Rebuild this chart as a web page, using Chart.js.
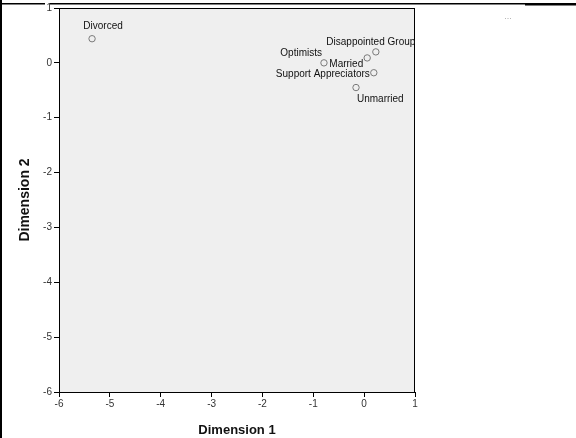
<!DOCTYPE html>
<html>
<head>
<meta charset="utf-8">
<script src="https://cdn.jsdelivr.net/npm/chart.js@4"></script>
<style>
  html, body { margin: 0; padding: 0; background: #fff; }
  #wrap { position: relative; width: 576px; height: 438px; }
</style>
</head>
<body>
<div id="wrap"><canvas id="grafico" width="576" height="438"></canvas></div>
<script>
// dados (coordenadas dos grupos)
const grupos = ["Divorced", "Optimists", "Married", "Disappointed Group", "Support Appreciators", "Unmarried"];
const dimensao1 = [-5.35, -0.79, 0.06, 0.23, 0.19, -0.16];
const dimensao2 = [0.44, 0.0, 0.09, 0.2, -0.18, -0.45];
const limitesX = [-6, 1];
const limitesY = [-6, 1];

// onde cada rótulo fica em relação ao ponto
const posRotulos = [
  { align: "center", dx: 11, dy: -12 },
  { align: "right", dx: -2, dy: -10 },
  { align: "right", dx: -4, dy: 6 },
  { align: "center", dx: -5, dy: -10 },
  { align: "right", dx: -4, dy: 2 },
  { align: "left", dx: 1, dy: 12 },
];

const fonte = "Arial, 'Liberation Sans', sans-serif";

const extras = {
  id: "extras",
  beforeDraw(chart) {
    const { ctx, chartArea: a } = chart;
    ctx.save();
    ctx.fillStyle = "#fff";
    ctx.fillRect(0, 0, chart.width, chart.height);
    ctx.fillStyle = "#efefef";
    ctx.fillRect(a.left, a.top, a.right - a.left, a.bottom - a.top);
    ctx.restore();
  },
  afterDraw(chart) {
    const { ctx, chartArea: a } = chart;
    const meta = chart.getDatasetMeta(0);
    ctx.save();
    // moldura da área do gráfico
    ctx.strokeStyle = "#000";
    ctx.lineWidth = 1;
    ctx.strokeRect(a.left + 0.5, a.top + 0.5, a.right - a.left - 1, a.bottom - a.top);

    // rótulos dos pontos (cortados na área)
    ctx.beginPath();
    ctx.rect(a.left, a.top, a.right - a.left, a.bottom - a.top);
    ctx.clip();
    ctx.font = "10px " + fonte;
    ctx.fillStyle = "#111";
    ctx.textBaseline = "middle";
    meta.data.forEach((pt, i) => {
      const p = posRotulos[i];
      ctx.textAlign = p.align;
      ctx.fillText(grupos[i], pt.x + p.dx, pt.y + p.dy);
    });
    ctx.restore();

    // bordas da página
    ctx.save();
    ctx.fillStyle = "#000";
    ctx.fillRect(0, 0, 2, chart.height);
    ctx.fillRect(0, 3, 45, 1.5);
    ctx.fillRect(50, 3, 475, 1.5);
    ctx.fillRect(525, 3, 51, 2.5);
    ctx.fillStyle = "#aaa";
    ctx.font = "9px " + fonte;
    ctx.textAlign = "center";
    ctx.textBaseline = "middle";
    ctx.fillText("...", 508, 17);
    ctx.restore();
  },
};

new Chart(document.getElementById("grafico").getContext("2d"), {
  type: "scatter",
  data: {
    datasets: [
      {
        label: "Grupos",
        data: dimensao1.map((x, i) => ({ x, y: dimensao2[i] })),
        pointRadius: 3.2,
        pointHoverRadius: 3.2,
        pointBorderWidth: 1,
        borderColor: "#7a7a7a",
        backgroundColor: "rgba(0,0,0,0)",
      },
    ],
  },
  options: {
    responsive: false,
    animation: false,
    events: [],
    layout: { padding: { top: 7, right: 161, left: 0, bottom: 0 } },
    plugins: { legend: { display: false }, tooltip: { enabled: false } },
    scales: {
      x: {
        min: limitesX[0],
        max: limitesX[1],
        afterFit: (s) => { s.height = 46; },
        ticks: { stepSize: 1, color: "#333", padding: 1, font: { family: fonte, size: 10 } },
        grid: { drawOnChartArea: false, drawTicks: true, tickLength: 5, color: "#000" },
        border: { display: true, color: "#000" },
        title: {
          display: true,
          text: "Dimension 1",
          color: "#111",
          font: { family: fonte, size: 13, weight: "bold" },
          padding: { top: 0, bottom: 0 },
        },
      },
      y: {
        min: limitesY[0],
        max: limitesY[1],
        afterFit: (s) => { s.width = 59; },
        ticks: { stepSize: 1, color: "#333", padding: 2, font: { family: fonte, size: 10 } },
        grid: { drawOnChartArea: false, drawTicks: true, tickLength: 5, color: "#000" },
        border: { display: true, color: "#000" },
        title: {
          display: true,
          text: "Dimension 2",
          color: "#111",
          font: { family: fonte, size: 14, weight: "bold" },
          padding: { top: 17, bottom: 0 },
        },
      },
    },
  },
  plugins: [extras],
});
</script>
</body>
</html>
